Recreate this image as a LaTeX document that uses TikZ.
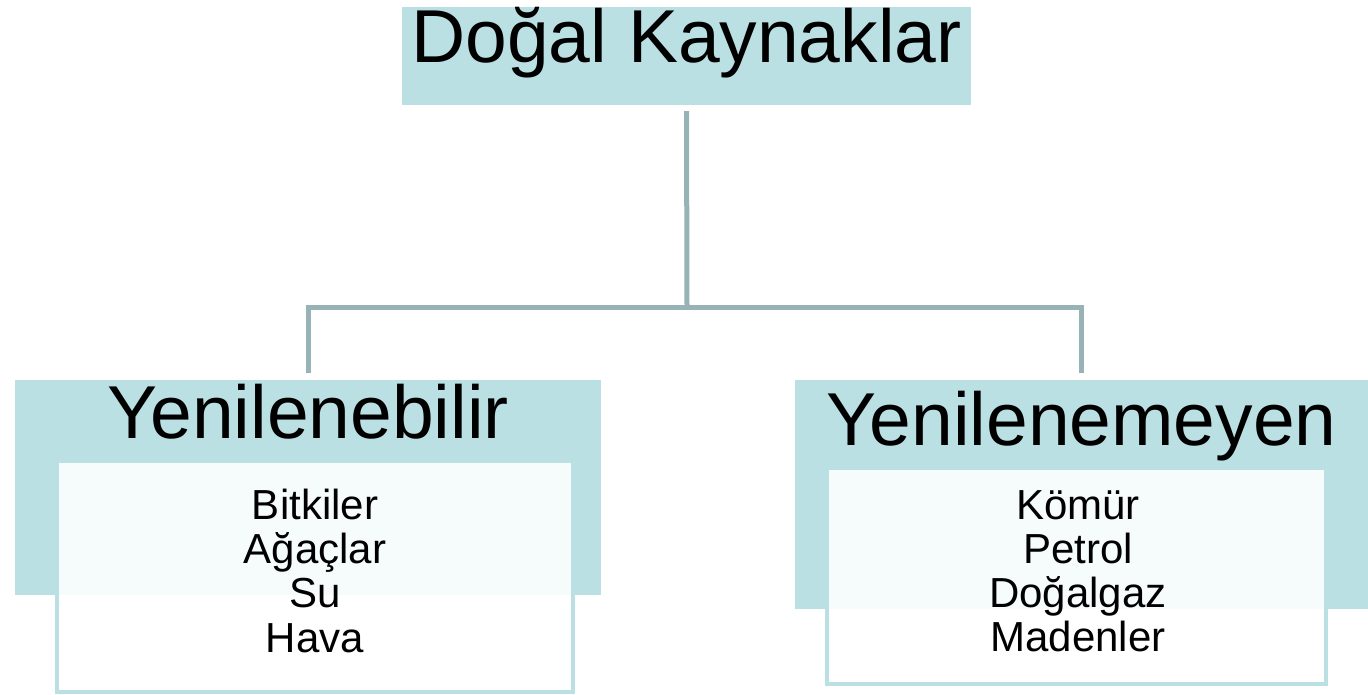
\documentclass[tikz,border=0pt]{standalone}
\usepackage{fontspec}
\setmainfont{Liberation Sans}
\definecolor{tealfill}{HTML}{BBE0E3}
\definecolor{connline}{HTML}{97B3B6}
\tikzset{
  headbox/.style={fill=tealfill, draw=none, inner sep=0pt, anchor=base,
    font=\fontsize{75}{88}\selectfont},
  listbox/.style={draw=tealfill, line width=4pt, fill=white, fill opacity=0.88,
    text opacity=1, inner sep=0pt, anchor=north},
  item/.style={anchor=base, inner sep=0pt, font=\fontsize{42}{44}\selectfont},
  conn/.style={draw=connline, line width=5pt, line cap=butt, line join=miter}
}
\begin{document}
\begin{tikzpicture}[x=1pt,y=-1pt]
\useasboundingbox (0,0) rectangle (1368,694);
% top box
\node[headbox, minimum width=569pt, text height=55pt, text depth=43pt] (top) at (686.5,62) {Doğal Kaynaklar};
% category boxes
\node[headbox, minimum width=586pt, text height=58pt, text depth=157pt] (lbox) at (308,438) {Yenilenebilir};
\node[headbox, minimum width=573pt, text height=65pt, text depth=164pt] (rbox) at (1081.5,445) {Yenilenemeyen};
% list boxes
\node[listbox, minimum width=516pt, minimum height=231pt] (llist) at (315,459) {};
\node[listbox, minimum width=499pt, minimum height=216pt] (rlist) at (1076.5,466) {};
% items
\node[item] (l1) at (315,519) {Bitkiler};
\node[item] (l2) at (315,563) {Ağaçlar};
\node[item] (l3) at (315,607) {Su};
\node[item] (l4) at (315,652) {Hava};
\node[item] (r1) at (1078,519) {Kömür};
\node[item] (r2) at (1078,563) {Petrol};
\node[item] (r3) at (1078,607) {Doğalgaz};
\node[item] (r4) at (1078,651) {Madenler};
% connectors
\coordinate (bus) at (687,307);
\draw[conn] ([yshift=-6pt]top.south) -- (bus);
\draw[conn] ([yshift=7pt]lbox.north) -- (lbox.north |- bus) -- (rbox.north |- bus) -- ([yshift=7pt]rbox.north);
\end{tikzpicture}
\end{document}
